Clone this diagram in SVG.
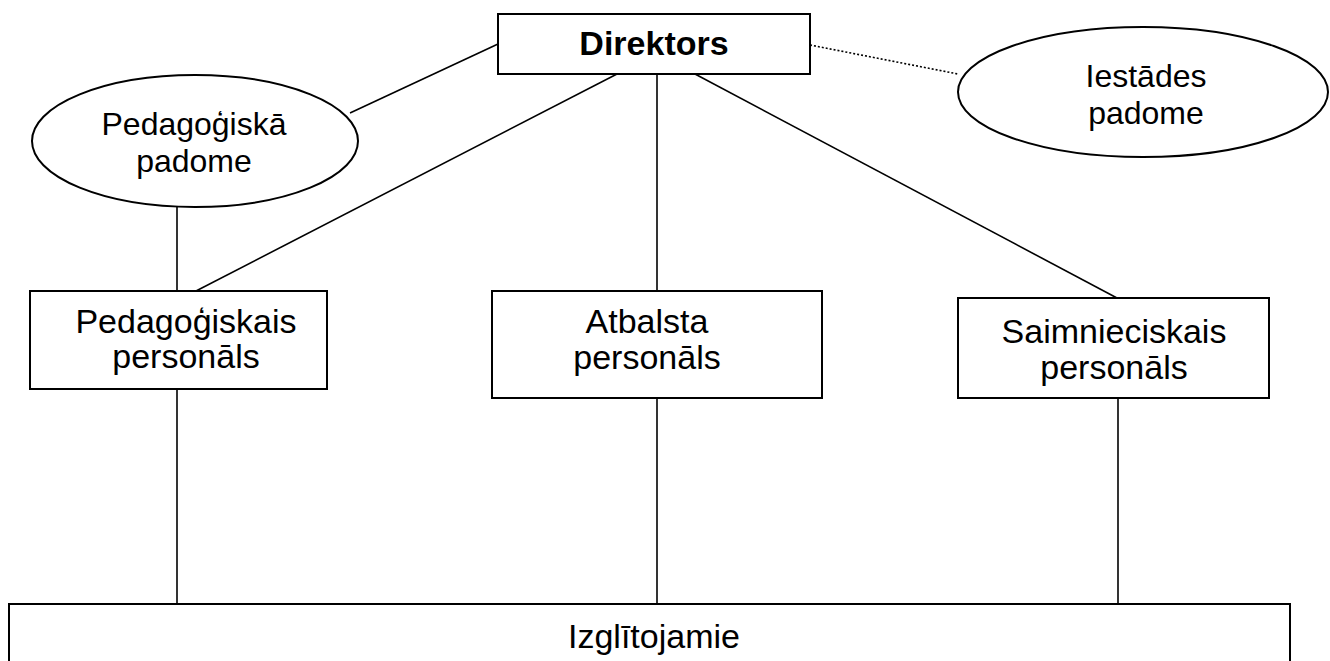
<svg xmlns="http://www.w3.org/2000/svg" width="1330" height="661" viewBox="0 0 1330 661">
<style>
.box{fill:#fff;stroke:#000;stroke-width:2}
.conn{stroke:#000;stroke-width:1.6;fill:none}
.dot{stroke:#000;stroke-width:1.6;fill:none;stroke-dasharray:2 2}
.t{font-family:"Liberation Sans",Arial,sans-serif;font-size:34px;fill:#000;text-anchor:middle}
.e{font-size:32px}
.b{font-weight:bold;font-size:34px}
</style>
<rect width="1330" height="661" fill="#fff"/>
<g id="connectors">
<line class="conn" x1="350" y1="113" x2="498" y2="44"/>
<line class="dot" x1="810" y1="45" x2="958" y2="74"/>
<line class="conn" x1="617" y1="74" x2="196" y2="291"/>
<line class="conn" x1="657" y1="74" x2="657" y2="291"/>
<line class="conn" x1="695" y1="74" x2="1117" y2="298"/>
<line class="conn" x1="177" y1="207" x2="177" y2="291"/>
<line class="conn" x1="177" y1="389" x2="177" y2="604"/>
<line class="conn" x1="657" y1="398" x2="657" y2="604"/>
<line class="conn" x1="1118" y1="398" x2="1118" y2="604"/>
</g>
<g id="direktors">
<rect class="box" x="498" y="14" width="312" height="60"/>
<text class="t b" x="654" y="55">Direktors</text>
</g>
<g id="pedagogiska-padome">
<ellipse class="box" cx="195" cy="141" rx="163" ry="66"/>
<text class="t e" x="194" y="135">Pedagoģiskā</text>
<text class="t e" x="194" y="172">padome</text>
</g>
<g id="iestades-padome">
<ellipse class="box" cx="1143" cy="92" rx="185" ry="65"/>
<text class="t e" x="1146" y="87">Iestādes</text>
<text class="t e" x="1146" y="124">padome</text>
</g>
<g id="pedagogiskais-personals">
<rect class="box" x="30" y="291" width="297" height="98"/>
<text class="t" x="186" y="333">Pedagoģiskais</text>
<text class="t" x="186" y="368">personāls</text>
</g>
<g id="atbalsta-personals">
<rect class="box" x="492" y="291" width="330" height="107"/>
<text class="t" x="647" y="333">Atbalsta</text>
<text class="t" x="647" y="369">personāls</text>
</g>
<g id="saimnieciskais-personals">
<rect class="box" x="958" y="298" width="311" height="100"/>
<text class="t" x="1114" y="343">Saimnieciskais</text>
<text class="t" x="1114" y="379">personāls</text>
</g>
<g id="izglitojamie">
<rect class="box" x="9" y="604" width="1281" height="70"/>
<text class="t" x="654" y="648">Izglītojamie</text>
</g>
</svg>
